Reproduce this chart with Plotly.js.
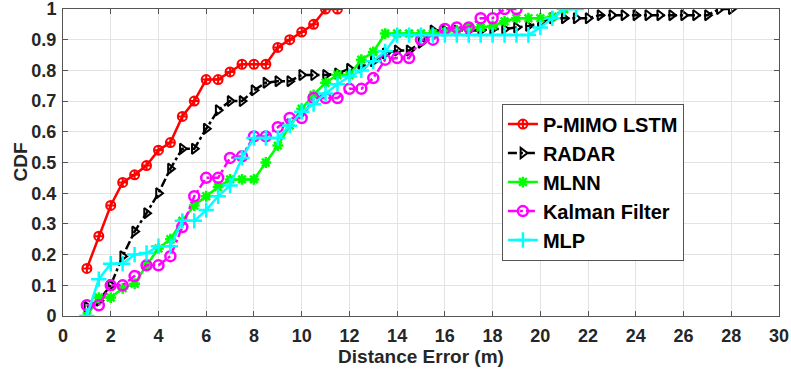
<!DOCTYPE html>
<html>
<head>
<meta charset="utf-8">
<script src="https://cdn.plot.ly/plotly-3.0.1.min.js"></script>
<style>html,body{margin:0;padding:0;background:#fff;}#chart{width:791px;height:375px;}</style>
</head>
<body>
<div id="chart"></div>
<script>
const seriesNames = ["P-MIMO LSTM", "RADAR", "MLNN", "Kalman Filter", "MLP"];

const lstmX = [1,1.5,2,2.5,3,3.5,4,4.5,5,5.5,6,6.5,7,7.5,8,8.5,9,9.5,10,10.5,11,11.5];
const lstmY = [0.155,0.26,0.36,0.435,0.46,0.49,0.54,0.565,0.65,0.70,0.77,0.77,0.795,0.82,0.82,0.82,0.875,0.90,0.925,0.95,1.0,1.0];

const radarX = [1,1.5,2,2.5,3,3.5,4,4.5,5,5.5,6,6.5,7,7.5,8,8.5,9,9.5,10,10.5,11,11.5,12,12.5,13,13.5,14,14.5,15,15.5,16,16.5,17,17.5,18,18.5,19,19.5,20,20.5,21,21.5,22,22.5,23,23.5,24,24.5,25,25.5,26,26.5,27,27.5,28];
const radarY = [0.03,0.05,0.10,0.195,0.275,0.335,0.40,0.48,0.545,0.545,0.61,0.67,0.70,0.70,0.735,0.76,0.765,0.765,0.785,0.785,0.785,0.79,0.805,0.81,0.83,0.855,0.865,0.865,0.89,0.93,0.93,0.93,0.93,0.93,0.935,0.935,0.94,0.945,0.955,0.97,0.97,0.97,0.97,0.98,0.98,0.98,0.98,0.98,0.98,0.98,0.98,0.98,0.98,1.0,1.0];

const mlnnX = [1,1.5,2,2.5,3,3.5,4,4.5,5,5.5,6,6.5,7,7.5,8,8.5,9,9.5,10,10.5,11,11.5,12,12.5,13,13.5,14,14.5,15,15.5,16,16.5,17,17.5,18,18.5,19,19.5,20,20.5,21];
const mlnnY = [0.0,0.06,0.06,0.09,0.105,0.165,0.22,0.25,0.31,0.36,0.39,0.42,0.445,0.445,0.445,0.50,0.555,0.62,0.675,0.72,0.76,0.785,0.785,0.835,0.86,0.92,0.92,0.92,0.92,0.92,0.925,0.93,0.94,0.94,0.945,0.96,0.97,0.97,0.97,0.975,1.0];

const kalmanX = [1,1.5,2,2.5,3,3.5,4,4.5,5,5.5,6,6.5,7,7.5,8,8.5,9,9.5,10,10.5,11,11.5,12,12.5,13,13.5,14,14.5,15,15.5,16,16.5,17,17.5,18,18.5,19];
const kalmanY = [0.035,0.035,0.10,0.10,0.13,0.165,0.165,0.195,0.29,0.39,0.45,0.45,0.515,0.52,0.585,0.585,0.615,0.645,0.645,0.71,0.71,0.71,0.74,0.74,0.775,0.835,0.84,0.84,0.90,0.90,0.935,0.94,0.94,0.97,0.97,1.0,1.0];

const mlpX = [1,1.5,2,2.5,3,3.5,4,4.5,5,5.5,6,6.5,7,7.5,8,8.5,9,9.5,10,10.5,11,11.5,12,12.5,13,13.5,14,14.5,15,15.5,16,16.5,17,17.5,18,18.5,19,19.5,20,20.5,21,21.5];
const mlpY = [0.0,0.12,0.17,0.17,0.20,0.205,0.227,0.227,0.31,0.31,0.345,0.39,0.425,0.515,0.58,0.58,0.58,0.62,0.665,0.69,0.725,0.755,0.78,0.80,0.83,0.862,0.915,0.915,0.915,0.915,0.915,0.915,0.915,0.915,0.915,0.915,0.915,0.915,0.94,0.97,1.0,1.0];

const xTicks = [0,2,4,6,8,10,12,14,16,18,20,22,24,26,28,30];
const yTicks = [0,0.1,0.2,0.3,0.4,0.5,0.6,0.7,0.8,0.9,1];
const yTickText = ["0","0.1","0.2","0.3","0.4","0.5","0.6","0.7","0.8","0.9","1"];

const FONT = "Liberation Sans, Arial, sans-serif";

const traces = [
  {x: lstmX, y: lstmY, name: seriesNames[0], mode: "lines+markers",
   line: {color: "#ff0000", width: 2.5},
   marker: {symbol: "circle-cross-open", size: 9, color: "#ff0000", line: {width: 2, color: "#ff0000"}}},
  {x: radarX, y: radarY, name: seriesNames[1], mode: "lines+markers",
   line: {color: "#000000", width: 2.5, dash: "dashdot"},
   marker: {symbol: "triangle-right-open", size: 9, color: "#000000", line: {width: 2, color: "#000000"}}},
  {x: mlnnX, y: mlnnY, name: seriesNames[2], mode: "lines+markers",
   line: {color: "#00ff00", width: 2.5},
   marker: {symbol: "asterisk-open", size: 9, color: "#00ff00", line: {width: 2.5, color: "#00ff00"}}},
  {x: kalmanX, y: kalmanY, name: seriesNames[3], mode: "lines+markers",
   line: {color: "#ff00ff", width: 2.5, dash: "dashdot"},
   marker: {symbol: "circle-open", size: 10, color: "#ff00ff", line: {width: 2.5, color: "#ff00ff"}}},
  {x: mlpX, y: mlpY, name: seriesNames[4], mode: "lines+markers",
   line: {color: "#00ffff", width: 2.5},
   marker: {symbol: "cross-thin-open", size: 11, color: "#00ffff", line: {width: 2.5, color: "#00ffff"}}}
];

const layout = {
  width: 791, height: 375,
  margin: {l: 63, r: 12, t: 9, b: 59},
  paper_bgcolor: "#ffffff", plot_bgcolor: "#ffffff",
  font: {family: FONT, size: 18, color: "#262626", weight: "bold"},
  showlegend: true,
  legend: {
    x: 0.613, y: 0.692, xanchor: "left", yanchor: "top",
    bgcolor: "#ffffff", bordercolor: "#555555", borderwidth: 1,
    font: {family: FONT, size: 20, color: "#000000", weight: "bold"},
    itemwidth: 30, tracegroupgap: 0
  },
  xaxis: {
    range: [0, 30], tickvals: xTicks, ticktext: xTicks.map(String),
    showgrid: true, gridcolor: "#e3e3e3", gridwidth: 1,
    zeroline: false, showline: true, linecolor: "#555555", linewidth: 1, mirror: "ticks",
    ticks: "inside", ticklen: 5, tickcolor: "#555555", ticklabelstandoff: 3,
    ticklabeloverflow: "allow",
    tickfont: {family: FONT, size: 18, color: "#262626", weight: "bold"},
    title: {text: "Distance Error (m)", standoff: 4, font: {family: FONT, size: 19, color: "#262626", weight: "bold"}}
  },
  yaxis: {
    range: [0, 1], tickvals: yTicks, ticktext: yTickText,
    showgrid: true, gridcolor: "#e3e3e3", gridwidth: 1,
    zeroline: false, showline: true, linecolor: "#555555", linewidth: 1, mirror: "ticks",
    ticks: "inside", ticklen: 5, tickcolor: "#555555", ticklabelstandoff: 2,
    ticklabeloverflow: "allow",
    tickfont: {family: FONT, size: 18, color: "#262626", weight: "bold"}
  },
  annotations: [{
    text: "CDF", xref: "paper", yref: "paper", x: -0.060, y: 0.5,
    xanchor: "center", yanchor: "middle", textangle: -90, showarrow: false,
    font: {family: FONT, size: 19, color: "#262626", weight: "bold"}
  }]
};

Plotly.newPlot("chart", traces, layout, {displayModeBar: false, staticPlot: true});
</script>
</body>
</html>
